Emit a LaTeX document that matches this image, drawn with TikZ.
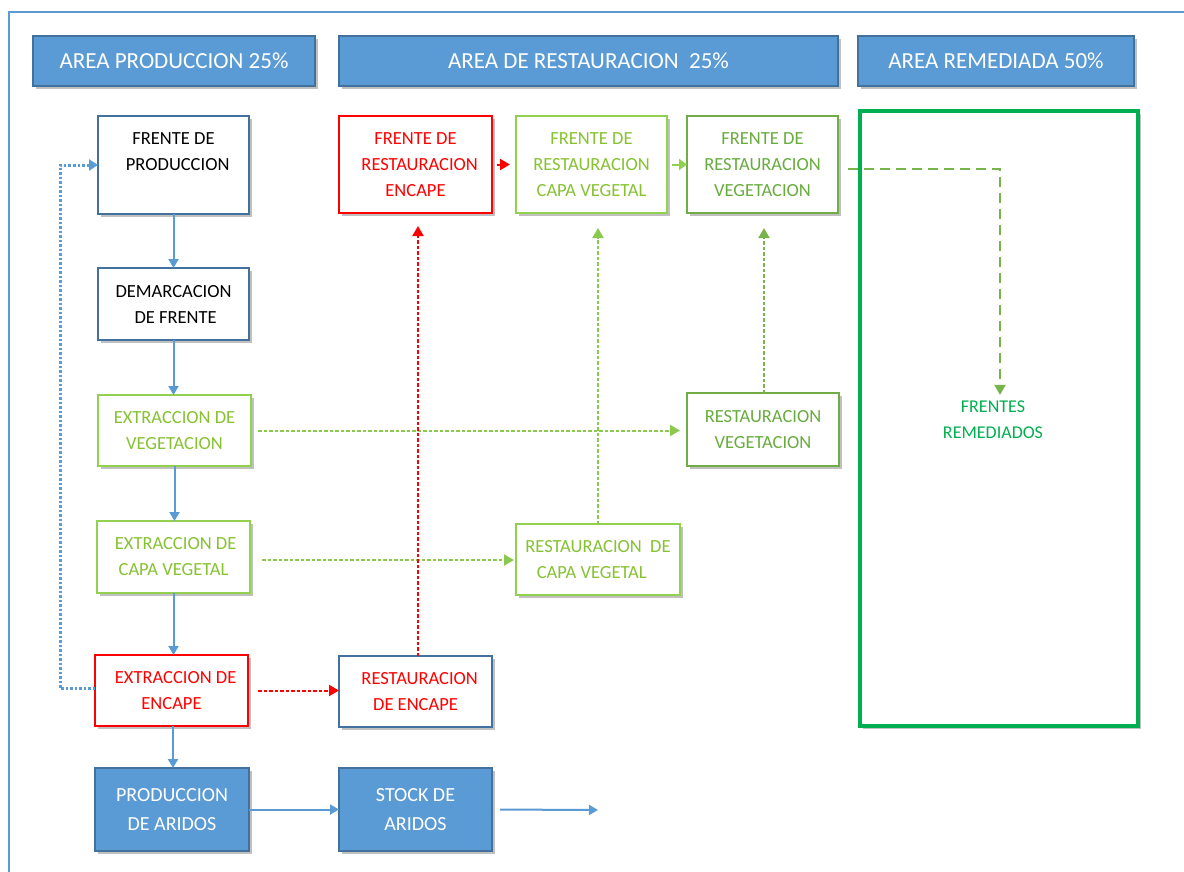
\documentclass[tikz,border=0pt]{standalone}
\usepackage{fontspec}
\setmainfont{Carlito}
\usetikzlibrary{arrows.meta,shadows,calc}
\definecolor{hblue}{HTML}{5B9BD5}
\definecolor{hborder}{HTML}{41719C}
\definecolor{lgreen}{HTML}{92D050}
\definecolor{dgreen}{HTML}{70AD47}
\definecolor{rgreen}{HTML}{00B050}
\definecolor{gtext}{HTML}{86C232}
\definecolor{dgtext}{HTML}{68AC3E}
\definecolor{rtext}{HTML}{FF0000}
\begin{document}
\begin{tikzpicture}[x=1pt,y=-1pt,
  shad/.style={drop shadow={shadow xshift=2.5pt,shadow yshift=-3pt,opacity=0.35,fill=black!70}},
  bx/.style={shape=rectangle,draw,line width=1.8pt,fill=white,inner sep=0pt,outer sep=0pt,align=center,
             font=\fontsize{18.5}{26}\selectfont,shad},
  bluebox/.style={bx,draw=hborder},
  lgbox/.style={bx,draw=lgreen,text=gtext},
  dgbox/.style={bx,draw=dgreen,text=dgtext},
  redbox/.style={bx,draw=red,text=rtext},
  fillbox/.style={bx,fill=hblue,draw=hborder,text=white,font=\fontsize{20}{29}\selectfont},
  hdr/.style={shape=rectangle,fill=hblue,draw=hborder,line width=1.4pt,text=white,inner sep=0pt,
              font=\fontsize{23}{26}\selectfont,shad},
  bconn/.style={draw=hblue,line width=2pt,-{Triangle[width=10pt,length=9pt]}},
  gconn/.style={draw=lgreen!80!dgreen,line width=2pt,dash pattern=on 3.5pt off 2pt,-{Triangle[width=11pt,length=10pt]}},
  dgconn/.style={draw=dgreen!80!lgreen,line width=2pt,dash pattern=on 3.5pt off 2pt,-{Triangle[width=11pt,length=10pt]}},
  rconn/.style={draw=red,line width=2pt,dash pattern=on 3.5pt off 2pt,-{Triangle[width=11pt,length=10pt]}}
]
\useasboundingbox (0,0) rectangle (1184,871);
\fill[white] (0,0) rectangle (1184,871);
% outer frame
\draw[hblue,line width=1.8pt] (9,875) -- (9,12) -- (1188,12);

% headers
\node[hdr,minimum width=282pt,minimum height=50pt] (h1) at (174,61) {AREA PRODUCCION 25\%};
\node[hdr,minimum width=499pt,minimum height=50pt] (h2) at (588.5,61) {AREA DE RESTAURACION\ \ 25\%};
\node[hdr,minimum width=276pt,minimum height=50pt] (h3) at (996,61) {AREA REMEDIADA 50\%};

% remediated area
\node[draw=rgreen,line width=4.5pt,minimum width=278pt,minimum height=615pt,inner sep=0pt,fill=white,shad] (rem) at (999,418.5) {};
\node[text=rgreen,align=center,inner sep=0pt,font=\fontsize{18}{26}\selectfont] (fr) at (993,420) {FRENTES\\REMEDIADOS};

% production column
\node[bluebox,minimum width=151pt,minimum height=98pt] (fp) at (173.5,165) {FRENTE DE\\\ \ PRODUCCION\\\phantom{X}};
\node[bluebox,minimum width=151pt,minimum height=72pt] (df) at (173.5,304) {DEMARCACION\\\ DE FRENTE};
\node[lgbox,minimum width=153pt,minimum height=71pt] (ev) at (174.5,430.5) {EXTRACCION DE\\VEGETACION};
\node[lgbox,minimum width=153pt,minimum height=72pt] (ecv) at (173.5,557) {\ EXTRACCION DE\\CAPA VEGETAL};
\node[redbox,minimum width=153pt,minimum height=71pt] (ee) at (171.5,690.5) {\ \ EXTRACCION DE\\ENCAPE};
\node[fillbox,minimum width=154pt,minimum height=83pt] (pa) at (172,809.5) {PRODUCCION\\DE ARIDOS};
\node[fillbox,minimum width=153pt,minimum height=83pt] (sa) at (415.5,809.5) {STOCK DE\\ARIDOS};

% restoration
\node[bluebox,text=rtext,minimum width=153pt,minimum height=71pt] (re) at (415.5,691.5) {\ \ RESTAURACION\\DE ENCAPE};
\node[redbox,minimum width=153pt,minimum height=97pt] (fre) at (415.5,164.5) {FRENTE DE\\\ \ RESTAURACION\\ENCAPE};
\node[lgbox,minimum width=151pt,minimum height=97pt] (frcv) at (591.5,164.5) {FRENTE DE\\RESTAURACION\\CAPA VEGETAL};
\node[dgbox,minimum width=151pt,minimum height=97pt] (frv) at (762.5,164.5) {FRENTE DE\\RESTAURACION\\VEGETACION};
\node[dgbox,minimum width=152pt,minimum height=73pt] (rv) at (763,429.5) {RESTAURACION\\VEGETACION};
\node[lgbox,minimum width=164pt,minimum height=71pt] (rcv) at (598,559.5) {RESTAURACION\ \ DE\\CAPA VEGETAL\ \ \ \ };

\coordinate (sink) at (598,810);

% blue flow
\draw[bconn] (fp.south) -- (fp.south |- df.north);
\draw[bconn] (df.south) -- (df.south |- ev.north);
\draw[bconn] (ev.south) -- (ev.south |- ecv.north);
\draw[bconn] (ecv.south) -- (ecv.south |- ee.north);
\draw[bconn] ([xshift=1.5pt]ee.south) -- ([xshift=1.5pt]ee.south |- pa.north);
\draw[bconn] (pa.east) -- (sa.west);
\draw[bconn,shorten <=8pt] (sa.east) -- (sink);
\draw[draw=hblue,line width=3pt,dash pattern=on 2.5pt off 2pt,-{Triangle[width=11pt,length=9pt]}]
  ([yshift=2pt]ee.west) -- (60,688.5) -- (60,165) -- (fp.west);

% green flows
\draw[gconn,shorten <=7pt,shorten >=7pt] (ev.east) -- (ev.east -| rv.west);
\draw[gconn,shorten <=12pt,shorten >=2pt] ([yshift=-3pt]ecv.east) -- ([yshift=-3pt]ecv.east -| rcv.west);
\draw[gconn,shorten >=15pt] (rcv.north) -- (rcv.north |- frcv.south);
\draw[dgconn,shorten >=15pt] ([xshift=1pt]rv.north) -- ([xshift=1pt]rv.north |- frv.south);
\draw[draw=lgreen,line width=2pt,-{Triangle[width=11pt,length=8pt]},shorten <=5pt] (frcv.east) -- (frv.west);
\draw[draw=dgreen!80!lgreen,line width=2pt,dash pattern=on 10pt off 6pt,-{Triangle[width=11pt,length=10pt]},shorten <=10pt,shorten >=6pt]
  ([yshift=-4.5pt]frv.east) -| ([xshift=7pt]fr.north);

% red flows
\draw[rconn,shorten <=10pt] (ee.east) -- (ee.east -| re.west);
\draw[rconn,shorten >=13pt] ([xshift=2.5pt]re.north) -- ([xshift=2.5pt]fre.south);
\draw[draw=red,line width=2pt,-{Triangle[width=11pt,length=10pt]},shorten <=5pt,shorten >=6pt] (fre.east) -- (frcv.west);
\end{tikzpicture}
\end{document}
